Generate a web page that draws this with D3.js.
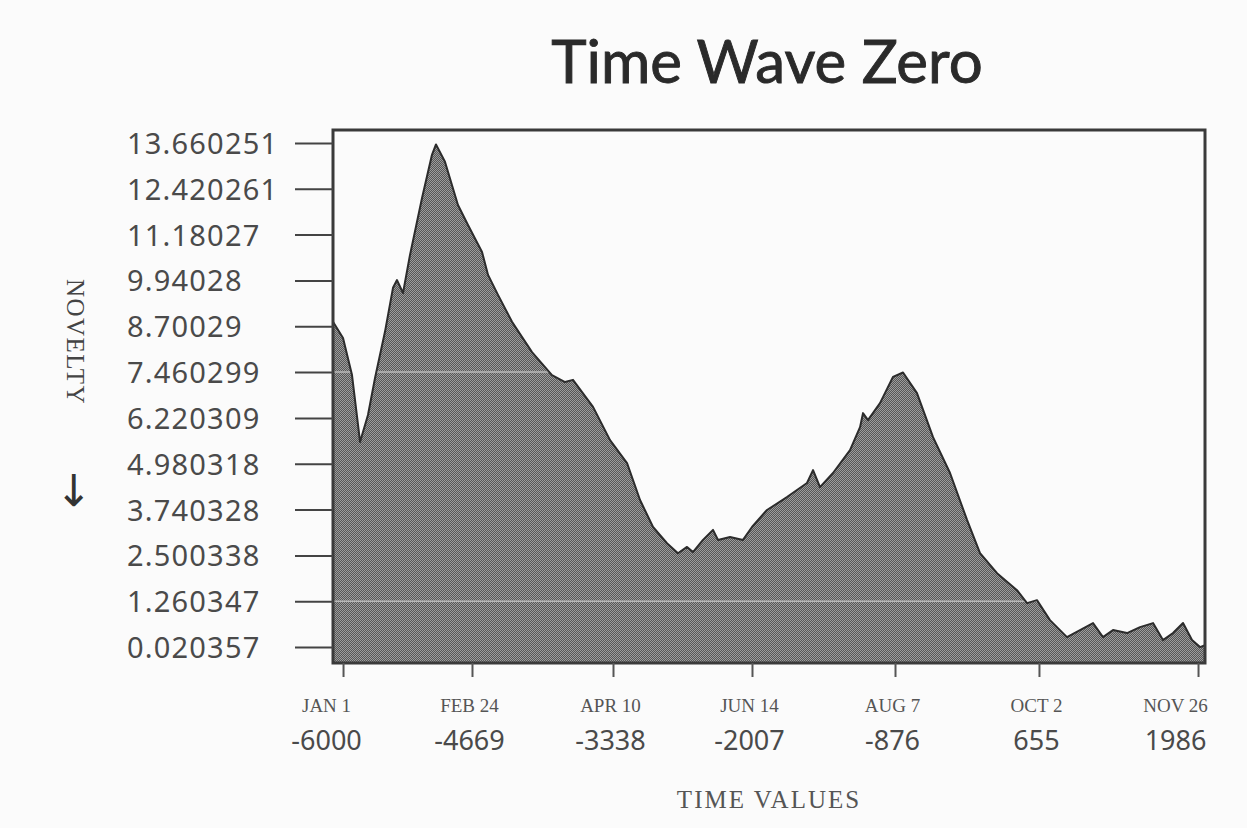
<!DOCTYPE html>
<html>
<head>
<meta charset="utf-8">
<script src="https://cdn.jsdelivr.net/npm/d3@7"></script>
<style>
  html, body { margin: 0; padding: 0; background: #fbfbfb; }
  svg { display: block; }
</style>
</head>
<body>
<script>
// Time position along the axis (0 = start of the run, 1000 = end) and novelty value
const timePos = [0, 11.5, 21.8, 28.7, 31.0, 40.1, 48.2, 59.6, 68.8, 73.4, 80.3, 88.3, 102.1, 113.5, 118.1,
  128.4, 143.3, 154.8, 170.9, 177.8, 189.2, 205.3, 228.2, 251.1, 266.1, 275.2, 298.2, 317.7, 337.2,
  352.1, 367.0, 383.0, 395.6, 406.0, 412.8, 424.3, 435.8, 441.5, 455.3, 470.2, 480.5, 497.7, 520.6,
  543.6, 550.5, 558.5, 573.4, 592.9, 604.4, 607.8, 613.5, 627.3, 642.2, 653.7, 669.7, 688.1, 707.6,
  727.1, 742.0, 761.5, 784.4, 795.9, 807.3, 822.2, 841.7, 856.7, 871.6, 883.0, 894.5, 910.6, 925.5,
  940.4, 951.8, 963.3, 974.8, 985.1, 994.3, 1000];
const novelty = [8.82, 8.38, 7.38, 6.03, 5.57, 6.30, 7.30, 8.55, 9.74, 9.95, 9.60, 10.63, 12.17, 13.34, 13.62,
  13.15, 11.98, 11.44, 10.71, 10.09, 9.55, 8.82, 8.00, 7.38, 7.19, 7.25, 6.52, 5.62, 5.00,
  4.00, 3.27, 2.83, 2.56, 2.73, 2.59, 2.92, 3.19, 2.92, 3.00, 2.92, 3.27, 3.73, 4.08,
  4.46, 4.81, 4.35, 4.73, 5.35, 5.97, 6.35, 6.16, 6.62, 7.33, 7.45, 6.89, 5.70, 4.73,
  3.46, 2.56, 2.02, 1.56, 1.21, 1.29, 0.75, 0.29, 0.48, 0.67, 0.29, 0.48, 0.40, 0.56,
  0.67, 0.21, 0.40, 0.67, 0.21, 0.02, 0.07];

// Axis ticks
const yTicks = [0.020357, 1.260347, 2.500338, 3.740328, 4.980318, 6.220309, 7.460299, 8.70029,
  9.94028, 11.18027, 12.420261, 13.660251];
const yTickLabels = ["0.020357", "1.260347", "2.500338", "3.740328", "4.980318", "6.220309", "7.460299",
  "8.70029", "9.94028", "11.18027", "12.420261", "13.660251"];
const xTickPos = [11.5, 159.4, 321.1, 480.5, 644.5, 809.6, 992];
const xTickDates = ["JAN 1", "FEB 24", "APR 10", "JUN 14", "AUG 7", "OCT 2", "NOV 26"];
const xTickYears = ["-6000", "-4669", "-3338", "-2007", "-876", "655", "1986"];

const yMin = -0.41, yMax = 14.01;

const W = 1247, H = 828;
const margin = { left: 333, right: 42, top: 130, bottom: 165 };
const plotW = W - margin.left - margin.right;
const plotH = H - margin.top - margin.bottom;

const svg = d3.select("body").append("svg").attr("width", W).attr("height", H);

// Dithered grey fill
const defs = svg.append("defs");
const pat = defs.append("pattern").attr("id", "dither")
  .attr("width", 2).attr("height", 2).attr("patternUnits", "userSpaceOnUse");
pat.append("rect").attr("width", 2).attr("height", 2).attr("fill", "#9c9c9c");
pat.append("rect").attr("x", 0).attr("y", 0).attr("width", 1).attr("height", 1).attr("fill", "#575757");
pat.append("rect").attr("x", 1).attr("y", 1).attr("width", 1).attr("height", 1).attr("fill", "#575757");

const g = svg.append("g").attr("transform", `translate(${margin.left},${margin.top})`);

const x = d3.scaleLinear().domain([0, 1000]).range([0, plotW]);
const y = d3.scaleLinear().domain([yMin, yMax]).range([plotH, 0]);

const data = timePos.map((t, i) => ({ t, v: novelty[i] }));

const area = d3.area().x(d => x(d.t)).y0(y(yMin)).y1(d => y(d.v));
const line = d3.line().x(d => x(d.t)).y(d => y(d.v));

g.append("path").datum(data).attr("d", area).attr("fill", "url(#dither)");

// Faint rule lines that show through the shaded area
const clip = defs.append("clipPath").attr("id", "areaClip");
clip.append("path").datum(data).attr("d", area);
g.append("g").attr("clip-path", "url(#areaClip)")
  .selectAll("line").data([yTicks[1], yTicks[6]]).join("line")
  .attr("x1", 0).attr("x2", plotW)
  .attr("y1", d => y(d)).attr("y2", d => y(d))
  .attr("stroke", "#b8b8b8").attr("stroke-width", 1.5);

g.append("path").datum(data).attr("d", line)
  .attr("fill", "none").attr("stroke", "#2c2c2c").attr("stroke-width", 2).attr("stroke-linejoin", "round");

// Frame
g.append("rect").attr("x", 0).attr("y", 0).attr("width", plotW).attr("height", plotH)
  .attr("fill", "none").attr("stroke", "#3a3a3a").attr("stroke-width", 3);

// Y axis
const yAxis = d3.axisLeft(y).tickValues(yTicks).tickSize(38).tickSizeOuter(0)
  .tickFormat((d, i) => yTickLabels[i]);
const ya = g.append("g").call(yAxis);
ya.select(".domain").remove();
ya.selectAll(".tick line").attr("stroke", "#444").attr("stroke-width", 2);
ya.selectAll(".tick text")
  .attr("x", -206).attr("text-anchor", "start").attr("dy", "0.36em")
  .attr("fill", "#4a4a4a")
  .style("font-family", "'Noto Sans', sans-serif").style("font-size", "29px")
  .style("letter-spacing", "1.2px");

// X axis
const xAxis = d3.axisBottom(x).tickValues(xTickPos).tickSize(14).tickSizeOuter(0).tickFormat("");
const xa = g.append("g").attr("transform", `translate(0,${plotH})`).call(xAxis);
xa.select(".domain").remove();
xa.selectAll(".tick line").attr("stroke", "#555").attr("stroke-width", 2);

const edgeShift = (i) => i === 0 ? -17 : (i === xTickPos.length - 1 ? -23 : -3);
xa.selectAll(".tick").each(function (d, i) {
  const t = d3.select(this);
  t.append("text").attr("x", edgeShift(i)).attr("y", 49)
    .attr("text-anchor", "middle").attr("fill", "#555")
    .style("font-family", "'Liberation Serif', serif").style("font-size", "19px")
    .text(xTickDates[i]);
  t.append("text").attr("x", edgeShift(i)).attr("y", 87)
    .attr("text-anchor", "middle").attr("fill", "#4a4a4a")
    .style("font-family", "'Noto Sans', sans-serif").style("font-size", "27px")
    .text(xTickYears[i]);
});

// Title
svg.append("text").attr("x", 767).attr("y", 83).attr("text-anchor", "middle")
  .attr("fill", "#2a2a2a").attr("stroke", "#2a2a2a").attr("stroke-width", 0.9)
  .style("font-family", "Lato, 'Open Sans', sans-serif").style("font-size", "60px")
  .text("Time Wave Zero");

// Axis titles
svg.append("text").attr("x", 769).attr("y", 808).attr("text-anchor", "middle")
  .attr("fill", "#555")
  .style("font-family", "'Liberation Serif', serif").style("font-size", "25px")
  .style("letter-spacing", "2px")
  .text("TIME VALUES");

svg.append("text").attr("transform", "translate(67,342) rotate(90)")
  .attr("text-anchor", "middle").attr("fill", "#444")
  .style("font-family", "'Liberation Serif', serif").style("font-size", "25px")
  .style("letter-spacing", "1.5px")
  .text("NOVELTY");

svg.append("text").attr("x", 74).attr("y", 506).attr("text-anchor", "middle")
  .attr("fill", "#333")
  .style("font-family", "'DejaVu Sans', sans-serif").style("font-size", "44px")
  .text("↓");
</script>
</body>
</html>
